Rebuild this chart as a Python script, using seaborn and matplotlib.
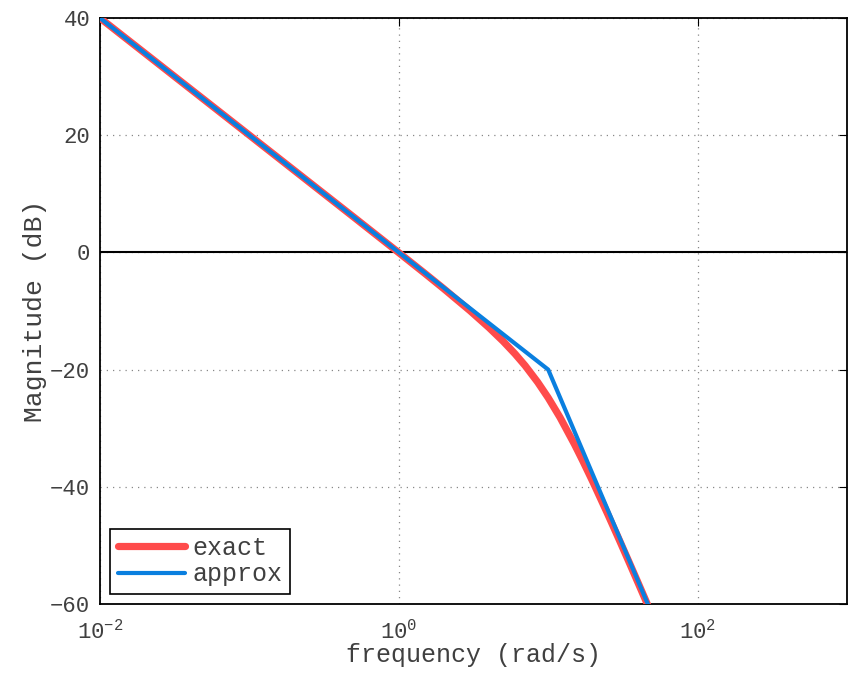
import matplotlib
matplotlib.use("Agg")
import matplotlib.pyplot as plt
import seaborn as sns
import pandas as pd
import numpy as np
from matplotlib.ticker import NullLocator, FixedLocator

# exact magnitude curve
exact_w = [0.01, 0.1, 0.5, 1.0, 1.5, 2.0, 3.0, 4.0, 5.0, 6.0, 7.0, 8.5, 10.0,
           12.0, 15.0, 17.0, 20.0, 25.0, 30.0, 35.0, 40.0, 50.0]
exact_db = [40.0, 20.0, 6.01, -0.05, -3.62, -6.20, -9.96, -12.80, -15.18, -17.32,
            -19.31, -22.14, -24.81, -28.16, -32.75, -35.52, -39.26, -44.63,
            -49.14, -53.02, -56.41, -62.12]

# asymptotic approximation
approx_w = [0.01, 10.0, 46.4, 60.0]
approx_db = [40.0, -20.0, -60.0, -66.7]

y_ticks = [-60, -40, -20, 0, 20, 40]
x_ticks = [1e-2, 1e0, 1e2]

sns.set_style("white")
plt.rcParams['font.family'] = ['Liberation Mono', 'DejaVu Sans']
plt.rcParams['mathtext.fontset'] = 'custom'
plt.rcParams['mathtext.rm'] = 'Liberation Mono'
plt.rcParams['mathtext.it'] = 'Liberation Mono'
plt.rcParams['mathtext.default'] = 'regular'

df_exact = pd.DataFrame({"w": exact_w, "db": exact_db, "series": "exact"})
df_approx = pd.DataFrame({"w": approx_w, "db": approx_db, "series": "approx"})

fig = plt.figure(figsize=(8.49, 6.74), dpi=100)
ax = fig.add_axes([100/849, 1-604/674, 747/849, 586/674])

ax.axhline(0, color='black', lw=1.5, zorder=1)
sns.lineplot(data=df_exact, x="w", y="db", color='#ff4b4b', lw=5.2, ax=ax,
             label='exact', estimator=None, sort=False, zorder=3)
sns.lineplot(data=df_approx, x="w", y="db", color='#0a7fdf', lw=3.0, ax=ax,
             label='approx', estimator=None, sort=False, zorder=4)

ax.set_xscale('log')
ax.set_xlim(1e-2, 1e3)
ax.set_ylim(-60, 40)
ax.xaxis.set_major_locator(FixedLocator(x_ticks))
ax.xaxis.set_minor_locator(NullLocator())
ax.yaxis.set_major_locator(FixedLocator(y_ticks))

ax.grid(True, which='major', linestyle=(0, (1, 4)), color='#888888', lw=0.9)
ax.set_axisbelow(True)

for s in ax.spines.values():
    s.set_visible(True)
    s.set_color('black')
    s.set_linewidth(1.3)

ax.tick_params(axis='both', which='major', direction='in', length=6, width=0.8,
               labelsize=16, colors='black', labelcolor='#404040',
               top=True, right=True)
ax.tick_params(axis='x', pad=11)
ax.tick_params(axis='y', pad=7)

ax.set_xlabel('frequency (rad/s)', fontsize=18, color='#404040', labelpad=0)
ax.set_ylabel('Magnitude (dB)', fontsize=19, color='#404040', labelpad=2)

leg = ax.legend(loc='lower left', fontsize=18, frameon=True, fancybox=False,
                edgecolor='black', framealpha=1, borderaxespad=0.4,
                handlelength=2.7, borderpad=0.3, labelspacing=0.1,
                handletextpad=0.3)
leg.get_frame().set_linewidth(1.2)
for t in leg.get_texts():
    t.set_color('#404040')

fig.savefig('out.png', dpi=100)
